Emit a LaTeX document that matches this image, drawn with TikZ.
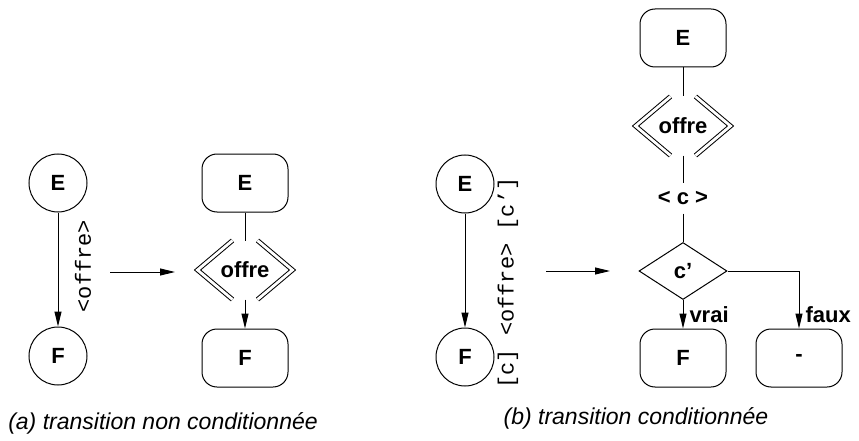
\documentclass[tikz,border=0pt]{standalone}
\usepackage{fontspec}
\setmainfont{Liberation Sans}
\setmonofont{Liberation Mono}
\usetikzlibrary{arrows.meta, shapes.geometric}

\tikzset{
  rond/.style={draw, circle, minimum size=58pt, inner sep=0pt, font=\fontsize{22}{26}\selectfont\bfseries},
  boite/.style={draw, rectangle, rounded corners=15pt, minimum width=86pt, minimum height=58pt, inner sep=0pt,
                font=\fontsize{22}{26}\selectfont\bfseries},
  chevron/.style={minimum width=94pt, minimum height=58pt, inner sep=0pt, font=\fontsize{22}{26}\selectfont\bfseries},
  garde/.style={minimum height=30pt, inner sep=0pt, font=\fontsize{22}{26}\selectfont\bfseries},
  choix/.style={draw, diamond, minimum width=88pt, minimum height=57pt, inner sep=0pt,
                font=\fontsize{22}{26}\selectfont\bfseries},
  etiq/.style={inner sep=0pt, font=\fontsize{22}{26}\selectfont\bfseries},
  evt/.style={inner sep=0pt, rotate=90, font=\fontsize{22}{26}\selectfont\ttfamily},
  legende/.style={font=\fontsize{23}{27}\selectfont\itshape},
  fleche/.style={-{Triangle[length=15pt,width=7pt]}}
}

% double chevrons round an action node
\newcommand{\chevrons}[1]{%
  \draw[double, double distance=2.8pt] ([xshift=35pt]#1.north west) -- (#1.west) -- ([xshift=35pt]#1.south west);
  \draw[double, double distance=2.8pt] ([xshift=-35pt]#1.north east) -- (#1.east) -- ([xshift=-35pt]#1.south east);}

\begin{document}
\begin{tikzpicture}[x=1pt,y=-1pt,line width=1pt]
    \useasboundingbox (0,0) rectangle (859,441);

    % (a) transition non conditionnee
    \node[rond] (Ea) at (58,183) {E};
    \node[rond] (Fa) at (58,356) {F};
    \draw[fleche] (Ea) -- (Fa);
    \node[evt] (la) at (83,266) {<offre>};
    \coordinate (ta1) at (110,272);
    \coordinate (ta2) at (175,272);
    \draw[fleche] (ta1) -- (ta2);
    \node[boite] (Ea2) at (245,183) {E};
    \node[chevron] (Oa) at (245,270) {offre};
    \node[boite] (Fa2) at (245,358) {F};
    \chevrons{Oa}
    \draw (Ea2) -- (Oa);
    \draw[fleche] (Oa) -- (Fa2);
    \node[legende] (capa) at (163,423) {(a) transition non conditionnée};

    % (b) transition conditionnee
    \node[rond] (Eb) at (465,184) {E};
    \node[rond] (Fb) at (465,357) {F};
    \draw[fleche] (Eb) -- (Fb);
    \node[evt] (lb) at (508,283) {[c] <offre> [c’]};
    \coordinate (tb1) at (546,271);
    \coordinate (tb2) at (610,271);
    \draw[fleche] (tb1) -- (tb2);
    \node[boite] (Eb2) at (683,38) {E};
    \node[chevron] (Ob) at (683,126) {offre};
    \node[garde] (Gb) at (683,198) {< c >};
    \node[choix] (Db) at (683,271) {c’};
    \node[boite] (Fb2) at (683,358) {F};
    \node[boite] (Nb) at (799,358) {-};
    \chevrons{Ob}
    \draw (Eb2) -- (Ob);
    \draw (Ob) -- (Gb);
    \draw (Gb) -- (Db);
    \draw[fleche] (Db) -- (Fb2);
    \draw[fleche] (Db.east) -| (Nb.north);
    \node[etiq, anchor=west] (vrai) at (689,315) {vrai};
    \node[etiq, anchor=west] (faux) at (805,315) {faux};
    \node[legende] (capb) at (636,418) {(b) transition conditionnée};
\end{tikzpicture}
\end{document}
